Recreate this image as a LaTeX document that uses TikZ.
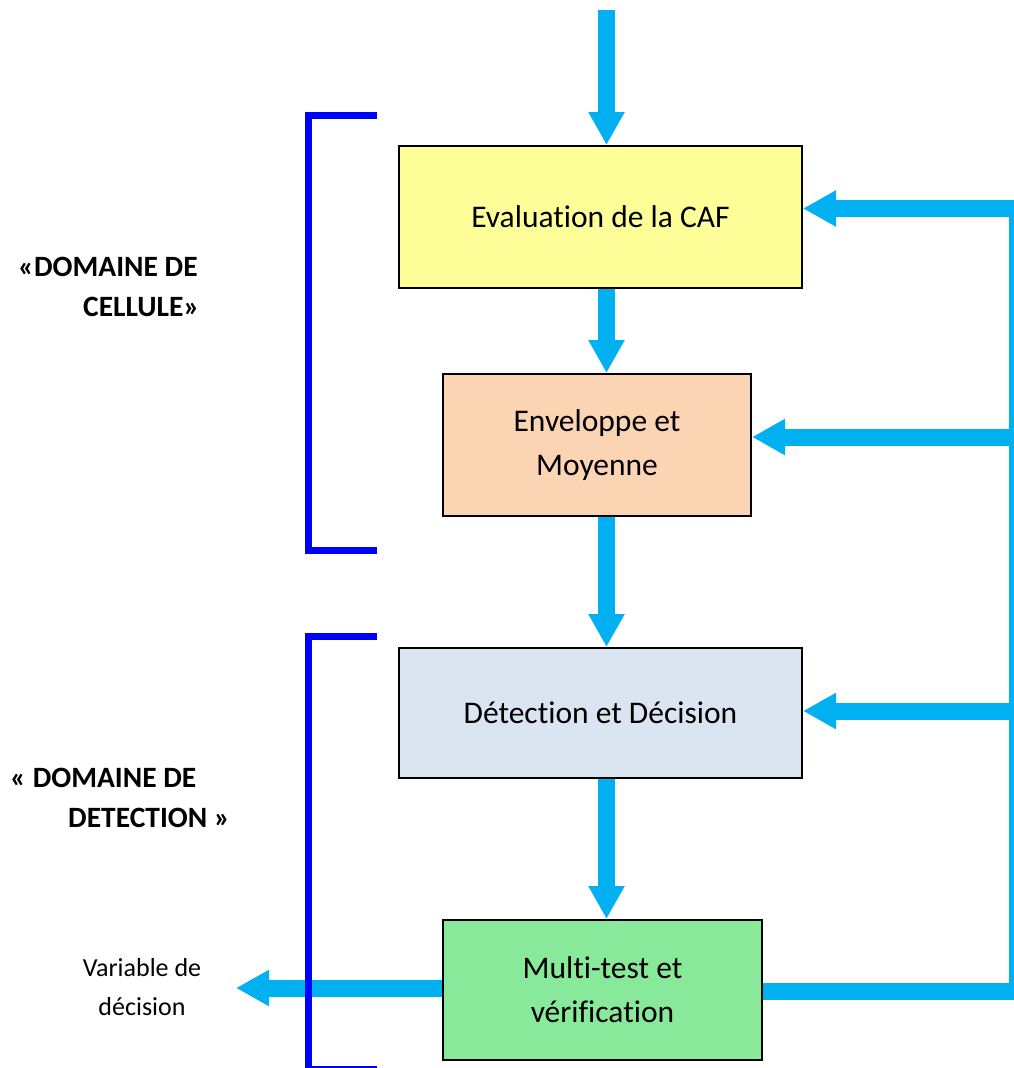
\documentclass[tikz,border=0pt]{standalone}
\usepackage{fontspec}
\setmainfont{Carlito}[Ligatures=CommonOff]
\usetikzlibrary{arrows.meta}
\definecolor{flowblue}{HTML}{00B0F0}
\definecolor{brace}{HTML}{0000FF}
\definecolor{boxyellow}{HTML}{FFFF99}
\definecolor{boxpeach}{HTML}{FBD4B4}
\definecolor{boxgrey}{HTML}{DBE5F1}
\definecolor{boxgreen}{HTML}{88E99A}
\begin{document}
\begin{tikzpicture}[x=1pt,y=-1pt,
  stagebox/.style={draw=black, line width=2pt, align=center, inner sep=0pt,
    font=\fontsize{31.5}{44}\selectfont},
  flowarrow/.style={draw=flowblue, line width=17pt, -{Triangle[length=33pt,width=34pt]}},
  railline/.style={draw=flowblue, line width=17pt},
  bracketline/.style={draw=brace, line width=7pt},
  domainlabel/.style={anchor=west, inner sep=0pt, font=\bfseries\fontsize{29.5}{34}\selectfont},
  outlabel/.style={align=center, inner sep=0pt, font=\fontsize{26}{39}\selectfont}]
\useasboundingbox (0,0) rectangle (1014,1068);
\clip (0,0) rectangle (1014,1068);

% processing stages
\node[stagebox, fill=boxyellow, minimum width=403pt, minimum height=142pt] (caf) at (600.5,217) {Evaluation de la CAF};
\node[stagebox, fill=boxpeach, minimum width=308pt, minimum height=142pt] (env) at (597,445) {Enveloppe et\\Moyenne};
\node[stagebox, fill=boxgrey, minimum width=403pt, minimum height=130pt] (det) at (600.5,713) {Détection et Décision};
\node[stagebox, fill=boxgreen, minimum width=319pt, minimum height=140pt] (mt) at (602.5,990) {Multi-test et\\vérification};

% input and forward chain
\coordinate (in) at (606.5,10);
\draw[flowarrow] (in) -- (in |- caf.north);
\draw[flowarrow] (caf.south -| in) -- (env.north -| in);
\draw[flowarrow] (env.south -| in) -- (det.north -| in);
\draw[flowarrow] (det.south -| in) -- (mt.north -| in);

% feedback rail on the right
\coordinate (r0) at (1017,991);
\coordinate (r1) at (1017,208.5);
\coordinate (r2) at (1017,437);
\coordinate (r3) at (1017,711);
\draw[railline] (mt.east |- r0) -- (r0) -- (1017,200);
\draw[flowarrow] (r1) -- (caf.east |- r1);
\draw[flowarrow] (r2) -- (env.east |- r2);
\draw[flowarrow] (r3) -- (det.east |- r3);

% decision output
\node[outlabel] (out) at (142,987.5) {Variable de\\décision};
\coordinate (outtip) at (236,988);
\draw[flowarrow] (mt.west |- outtip) -- (outtip);

% domain brackets
\draw[bracketline] (377,115.5) -- (308,115.5) -- (308,550.5) -- (377,550.5);
\draw[bracketline] (377,636.5) -- (308.5,636.5) -- (308.5,1069) -- (377,1069);

% domain labels
\node[domainlabel] (cel1) at (18,267) {«DOMAINE DE};
\node[domainlabel] (cel2) at (83,307) {CELLULE»};
\node[domainlabel] (dt1) at (10,778) {« DOMAINE DE};
\node[domainlabel] (dt2) at (68,818) {DETECTION »};
\end{tikzpicture}
\end{document}
